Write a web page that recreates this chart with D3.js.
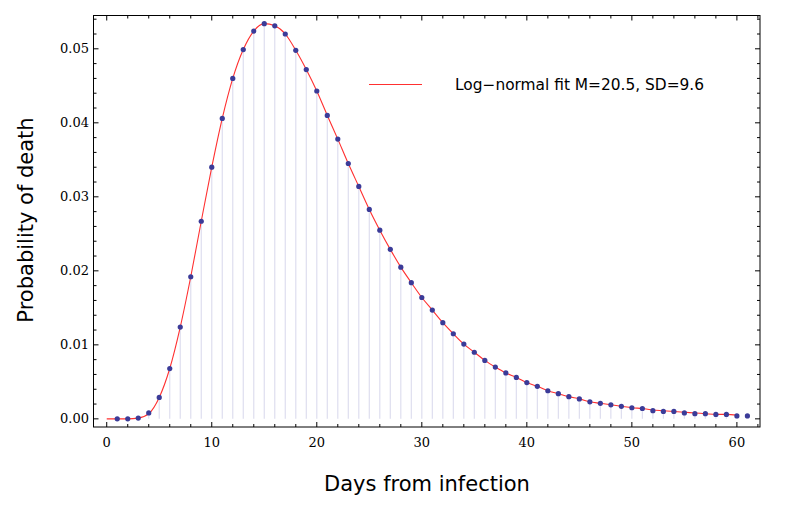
<!DOCTYPE html>
<html>
<head>
<meta charset="utf-8">
<script src="https://cdn.jsdelivr.net/npm/d3@7"></script>
<style>
  body { margin: 0; background: #fff; }
  .tick-label { font-family: "DejaVu Serif", serif; font-size: 13px; fill: #000; }
  .axis-title { font-family: "DejaVu Sans", sans-serif; font-size: 21px; fill: #000; }
  .legend-text { font-family: "DejaVu Sans", sans-serif; font-size: 15.4px; fill: #000; }
</style>
</head>
<body>
<div class="chart"></div>
<script>
// days 1..61, probability of death
var days = d3.range(1, 62);
var probs = [
  0.0000, 0.0000, 0.0001, 0.0008, 0.0029, 0.0068, 0.0124, 0.0192, 0.0267, 0.0340,
  0.0406, 0.0460, 0.0499, 0.0524, 0.0534, 0.0531, 0.0520, 0.0498, 0.0472, 0.0443,
  0.0410, 0.0378, 0.0345, 0.0314, 0.0283, 0.0255, 0.0229, 0.0205, 0.0184, 0.0164,
  0.0147, 0.0130, 0.0115, 0.0101, 0.0090, 0.0079, 0.0070, 0.0062, 0.0056, 0.0049,
  0.0044, 0.0038, 0.0034, 0.0030, 0.0027, 0.0023, 0.0021, 0.0019, 0.0017, 0.0015,
  0.0014, 0.0011, 0.0010, 0.0010, 0.0008, 0.0007, 0.0007, 0.0006, 0.0006, 0.0004, 0.0004
];

// log-normal fit curve, days 0..60
var fitDays = d3.range(0, 61);
var fitValues = [
  0.0000,
  0.0000, 0.0000, 0.0001, 0.0007, 0.0029, 0.0068, 0.0124, 0.0192, 0.0267, 0.0340,
  0.0406, 0.0460, 0.0499, 0.0524, 0.0534, 0.0531, 0.0520, 0.0498, 0.0472, 0.0443,
  0.0410, 0.0378, 0.0345, 0.0314, 0.0283, 0.0255, 0.0229, 0.0205, 0.0184, 0.0164,
  0.0147, 0.0130, 0.0115, 0.0101, 0.0090, 0.0079, 0.0070, 0.0062, 0.0056, 0.0049,
  0.0044, 0.0038, 0.0034, 0.0030, 0.0027, 0.0023, 0.0021, 0.0019, 0.0017, 0.0015,
  0.0014, 0.0012, 0.0011, 0.0010, 0.0009, 0.0008, 0.0007, 0.0006, 0.0006, 0.0005
];

var xTicks = [0, 10, 20, 30, 40, 50, 60];
var yTicks = [0, 0.01, 0.02, 0.03, 0.04, 0.05];
var legendLabel = "Log\u2212normal fit M=20.5, SD=9.6";

var w = 802, h = 505;
var frame = {left: 93.5, right: 760, top: 15.5, bottom: 427};

var svg = d3.select("div.chart")
  .append("svg")
  .attr("width", w)
  .attr("height", h);

var x = d3.scaleLinear().domain([-1.26, 62.2]).range([frame.left, frame.right]);
var y = d3.scaleLinear().domain([-0.0011, 0.0545]).range([frame.bottom, frame.top]);

var points = days.map(function(d, i){ return {day: d, p: probs[i]}; });
var fit = fitDays.map(function(d, i){ return {day: d, p: fitValues[i]}; });

var plot = svg.append("g");

// stems
plot.selectAll(".stem")
  .data(points)
  .enter()
  .append("line")
    .attr("class", "stem")
    .attr("x1", d => x(d.day))
    .attr("x2", d => x(d.day))
    .attr("y1", y(0))
    .attr("y2", d => y(d.p))
    .attr("stroke", "#dedeef")
    .attr("stroke-width", 1.2);

// fit curve
var line = d3.line()
  .x(d => x(d.day))
  .y(d => y(d.p))
  .curve(d3.curveMonotoneX);

plot.append("path")
  .datum(fit)
  .attr("d", line)
  .attr("fill", "none")
  .attr("stroke", "#ff3030")
  .attr("stroke-width", 1.1);

// dots
plot.selectAll(".dot")
  .data(points)
  .enter()
  .append("circle")
    .attr("class", "dot")
    .attr("cx", d => x(d.day))
    .attr("cy", d => y(d.p))
    .attr("r", 2.6)
    .attr("fill", "#3b3b98");

// frame with inward ticks
var xMinor = d3.range(0, 63, 2).filter(v => xTicks.indexOf(v) < 0);
var yMinor = d3.range(0, 0.0545, 0.002).filter(v => !yTicks.some(t => Math.abs(t - v) < 1e-9));

var ax = svg.append("g").attr("stroke", "#000").attr("stroke-width", 1);

ax.append("rect")
  .attr("x", frame.left).attr("y", frame.top)
  .attr("width", frame.right - frame.left)
  .attr("height", frame.bottom - frame.top)
  .attr("fill", "none");

function xTick(v, len){
  ax.append("line").attr("x1", x(v)).attr("x2", x(v))
    .attr("y1", frame.bottom).attr("y2", frame.bottom - len);
  ax.append("line").attr("x1", x(v)).attr("x2", x(v))
    .attr("y1", frame.top).attr("y2", frame.top + len);
}
function yTick(v, len){
  ax.append("line").attr("y1", y(v)).attr("y2", y(v))
    .attr("x1", frame.left).attr("x2", frame.left + len);
  ax.append("line").attr("y1", y(v)).attr("y2", y(v))
    .attr("x1", frame.right).attr("x2", frame.right - len);
}
xTicks.forEach(v => xTick(v, 5));
xMinor.forEach(v => xTick(v, 3));
yTicks.forEach(v => yTick(v, 5));
yMinor.forEach(v => yTick(v, 3));

// tick labels
svg.selectAll(".xlab")
  .data(xTicks)
  .enter()
  .append("text")
    .attr("class", "tick-label")
    .attr("x", d => x(d))
    .attr("y", 447)
    .attr("text-anchor", "middle")
    .text(d => d);

svg.selectAll(".ylab")
  .data(yTicks)
  .enter()
  .append("text")
    .attr("class", "tick-label")
    .attr("x", 89)
    .attr("y", d => y(d) + 4.5)
    .attr("text-anchor", "end")
    .text(d => d3.format(".2f")(d));

// axis titles
svg.append("text")
  .attr("class", "axis-title")
  .attr("x", 427)
  .attr("y", 491)
  .attr("text-anchor", "middle")
  .text("Days from infection");

svg.append("text")
  .attr("class", "axis-title")
  .attr("transform", "translate(33,220) rotate(-90)")
  .attr("text-anchor", "middle")
  .text("Probability of death");

// legend
svg.append("line")
  .attr("x1", 369).attr("x2", 422)
  .attr("y1", 84.5).attr("y2", 84.5)
  .attr("stroke", "#ff3030")
  .attr("stroke-width", 1.1);

svg.append("text")
  .attr("class", "legend-text")
  .attr("x", 455)
  .attr("y", 90)
  .text(legendLabel);
</script>
</body>
</html>
